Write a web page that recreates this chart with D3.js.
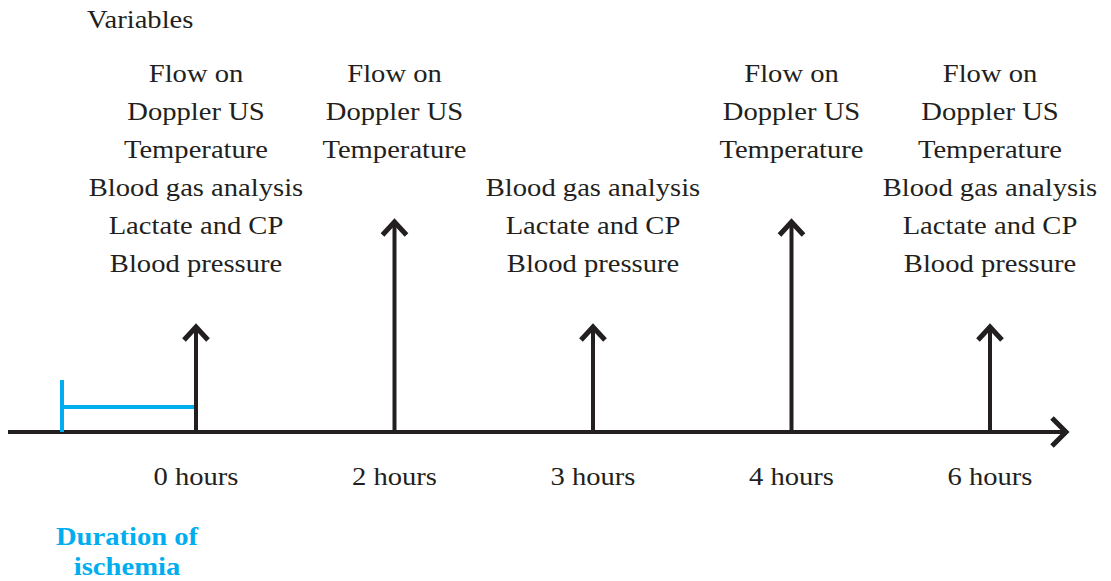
<!doctype html>
<html>
	<head>
		<meta charset="utf-8">
		<style>
			body{ margin: 0; background: #fff; }
		</style>
	</head>
	<body>
		<script src="https://cdn.jsdelivr.net/npm/d3@7/dist/d3.min.js"></script>
		<script>
			var timePoints = ["0 hours", "2 hours", "3 hours", "4 hours", "6 hours"];
			var arrowLevel = [1, 2, 1, 2, 1];
			var variableNames = ["Flow on", "Doppler US", "Temperature", "Blood gas analysis", "Lactate and CP", "Blood pressure"];
			// which variable rows are shown above each time point
			var measured = [
				[0, 1, 2, 3, 4, 5],
				[0, 1, 2],
				[3, 4, 5],
				[0, 1, 2],
				[0, 1, 2, 3, 4, 5]
			];
			var ischemiaLabel = ["Duration of", "ischemia"];

			var width = 1111, height = 581;
			var ink = "#231f20", blue = "#00aeef";
			var serif = "'Liberation Serif', 'Times New Roman', Tinos, 'DejaVu Serif', serif";
			var axisY = 432;
			var stretch = 1.1; // source type is a bit wide

			var svg = d3.select("body").append("svg")
				.attr("width", width).attr("height", height)
				.attr("font-family", serif);

			var x = d3.scalePoint().domain(timePoints).range([196, 990]);
			var y = d3.scaleLinear().domain([0, 2]).range([axisY, 222]);
			var rowY = d3.scaleLinear().domain([0, 5]).range([82, 272]);

			function label(sel, cx, cy){
				sel.attr("transform", "translate(" + cx + "," + cy + ") scale(" + stretch + ",1)")
					.attr("font-family", serif)
					.attr("font-size", 26)
					.attr("fill", ink);
				return sel;
			}

			// timeline
			svg.append("line")
				.attr("x1", 8).attr("x2", 1066)
				.attr("y1", axisY).attr("y2", axisY)
				.attr("stroke", ink).attr("stroke-width", 4);
			svg.append("path")
				.attr("d", "M1052,418 L1066,432 L1052,446")
				.attr("fill", "none").attr("stroke", ink).attr("stroke-width", 5);

			// ischemia bracket
			svg.append("line")
				.attr("x1", 62).attr("x2", 62).attr("y1", 380).attr("y2", axisY)
				.attr("stroke", blue).attr("stroke-width", 4);
			svg.append("line")
				.attr("x1", 62).attr("x2", x(timePoints[0])).attr("y1", 407).attr("y2", 407)
				.attr("stroke", blue).attr("stroke-width", 4);

			var g = svg.selectAll("g.tp")
				.data(timePoints).enter()
				.append("g").attr("class", "tp");

			g.append("line")
				.attr("x1", function(d){ return x(d); })
				.attr("x2", function(d){ return x(d); })
				.attr("y1", axisY)
				.attr("y2", function(d, i){ return y(arrowLevel[i]) + 2; })
				.attr("stroke", ink).attr("stroke-width", 4);

			g.append("path")
				.attr("d", function(d, i){
					var cx = x(d), ty = y(arrowLevel[i]);
					return "M" + (cx - 12) + "," + (ty + 13) + " L" + cx + "," + ty + " L" + (cx + 12) + "," + (ty + 13);
				})
				.attr("fill", "none").attr("stroke", ink).attr("stroke-width", 5);

			g.append("text")
				.attr("text-anchor", "middle")
				.each(function(d){ label(d3.select(this), x(d), 485); })
				.text(function(d){ return d; });

			g.each(function(d, i){
				d3.select(this).selectAll("text.var")
					.data(measured[i]).enter()
					.append("text").attr("class", "var")
					.attr("text-anchor", "middle")
					.each(function(r){ label(d3.select(this), x(d), rowY(r)); })
					.text(function(r){ return variableNames[r]; });
			});

			label(svg.append("text"), 87, 28).text("Variables");

			svg.selectAll("text.isch")
				.data(ischemiaLabel).enter()
				.append("text").attr("class", "isch")
				.attr("text-anchor", "middle")
				.each(function(d, i){ label(d3.select(this), 127, 545 + i * 30); })
				.attr("font-weight", "bold")
				.attr("fill", blue)
				.text(function(d){ return d; });
		</script>
	</body>
</html>
